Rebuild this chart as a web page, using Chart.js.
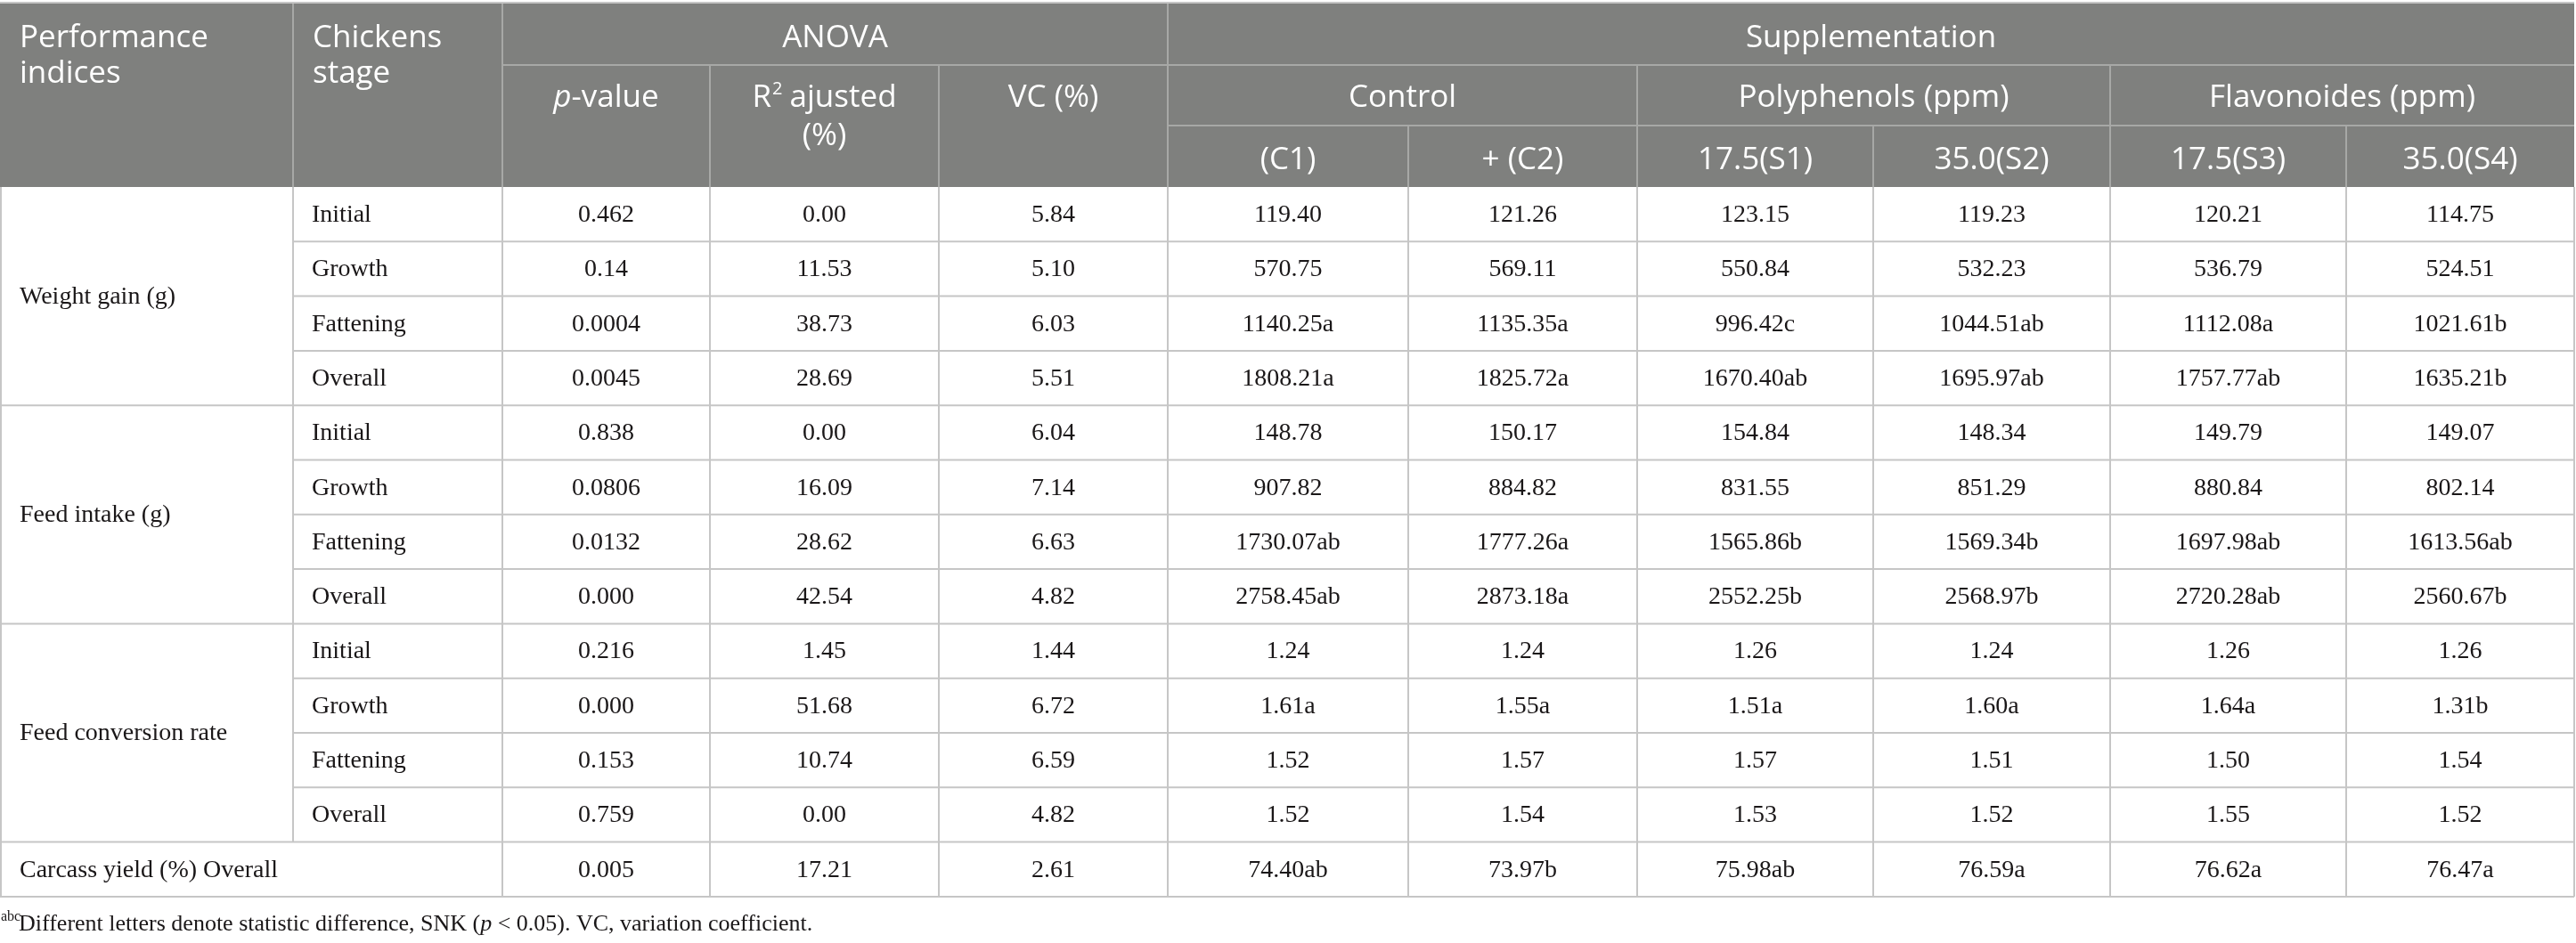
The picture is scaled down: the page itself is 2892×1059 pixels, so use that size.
<!DOCTYPE html>
<html>
<head>
<meta charset="utf-8">
<script src="https://cdn.jsdelivr.net/npm/chart.js@4.4.0/dist/chart.umd.min.js"></script>
<style>
  html, body { margin: 0; padding: 0; background: #fff; overflow: hidden; }
  #wrap { position: relative; width: 2892px; height: 1059px; }
</style>
</head>
<body>
<div id="wrap"><canvas id="tabela"></canvas></div>
<script>
/* dados da tabela */
const indices = ["Weight gain (g)", "Feed intake (g)", "Feed conversion rate"];
const stages = ["Initial", "Growth", "Fattening", "Overall"];
const carcassLabel = "Carcass yield (%) Overall";
const groups = ["Control", "Polyphenols (ppm)", "Flavonoides (ppm)"];
const treatments = ["(C1)", "+ (C2)", "17.5(S1)", "35.0(S2)", "17.5(S3)", "35.0(S4)"];

const pValue = ["0.462", "0.14", "0.0004", "0.0045", "0.838", "0.0806", "0.0132", "0.000", "0.216", "0.000", "0.153", "0.759", "0.005"];
const r2Adj = ["0.00", "11.53", "38.73", "28.69", "0.00", "16.09", "28.62", "42.54", "1.45", "51.68", "10.74", "0.00", "17.21"];
const vcPct = ["5.84", "5.10", "6.03", "5.51", "6.04", "7.14", "6.63", "4.82", "1.44", "6.72", "6.59", "4.82", "2.61"];
const c1 = ["119.40", "570.75", "1140.25a", "1808.21a", "148.78", "907.82", "1730.07ab", "2758.45ab", "1.24", "1.61a", "1.52", "1.52", "74.40ab"];
const c2 = ["121.26", "569.11", "1135.35a", "1825.72a", "150.17", "884.82", "1777.26a", "2873.18a", "1.24", "1.55a", "1.57", "1.54", "73.97b"];
const s1 = ["123.15", "550.84", "996.42c", "1670.40ab", "154.84", "831.55", "1565.86b", "2552.25b", "1.26", "1.51a", "1.57", "1.53", "75.98ab"];
const s2 = ["119.23", "532.23", "1044.51ab", "1695.97ab", "148.34", "851.29", "1569.34b", "2568.97b", "1.24", "1.60a", "1.51", "1.52", "76.59a"];
const s3 = ["120.21", "536.79", "1112.08a", "1757.77ab", "149.79", "880.84", "1697.98ab", "2720.28ab", "1.26", "1.64a", "1.50", "1.55", "76.62a"];
const s4 = ["114.75", "524.51", "1021.61b", "1635.21b", "149.07", "802.14", "1613.56ab", "2560.67b", "1.26", "1.31b", "1.54", "1.52", "76.47a"];

/* layout (unidades das escalas x/y) */
const colEdges = [0, 329, 564, 797, 1054, 1311, 1581, 1838, 2103, 2369, 2634, 2890];
const headEdges = [4, 73, 141, 210];
const bodyTop = 210;
const rowH = 61.3;
const nRows = 13;

const HEAD_BG = "#7f807e";
const HEAD_LINE = "#a7a8a6";
const BODY_LINE = "#c6c6c6";
const INK = "#1a1718";
const SANS = "'Open Sans', 'Noto Sans', sans-serif";
const SERIF = "'Liberation Serif', 'DejaVu Serif', serif";

const colCenter = (c) => (colEdges[c] + colEdges[c + 1]) / 2;
const rowCenter = (r) => bodyTop + rowH * (r + 0.5);

/* datasets: uma coluna da tabela por dataset, pontos invisíveis */
const valueCols = [pValue, r2Adj, vcPct, c1, c2, s1, s2, s3, s4];
const datasets = valueCols.map((vals, k) => ({
  data: vals.map((v, i) => ({ x: colCenter(k + 2), y: rowCenter(i), label: v })),
  align: "center",
  pointRadius: 0,
}));

const stageRows = [];
for (let g = 0; g < indices.length; g++) {
  stages.forEach((s, j) => stageRows.push({ x: colEdges[1] + 21, y: rowCenter(g * 4 + j), label: s }));
}
datasets.push({ data: stageRows, align: "left", pointRadius: 0 });

const indexRows = indices.map((s, g) => ({ x: 22, y: bodyTop + rowH * (g * 4 + 2), label: s }));
indexRows.push({ x: 22, y: rowCenter(12), label: carcassLabel });
datasets.push({ data: indexRows, align: "left", pointRadius: 0 });

/* desenha a grade, o cabeçalho e os textos */
const tablePlugin = {
  id: "tabela",
  beforeDatasetsDraw(chart) {
    const { ctx } = chart;
    const X = (v) => chart.scales.x.getPixelForValue(v);
    const Y = (v) => chart.scales.y.getPixelForValue(v);
    const line = (x0, y0, x1, y1) => {
      ctx.beginPath();
      ctx.moveTo(X(x0), Y(y0));
      ctx.lineTo(X(x1), Y(y1));
      ctx.stroke();
    };
    const right = colEdges[colEdges.length - 1];
    const bottom = bodyTop + rowH * nRows;

    ctx.save();
    // cabeçalho
    ctx.fillStyle = HEAD_BG;
    ctx.fillRect(X(0), Y(headEdges[0]), X(right) - X(0), Y(bodyTop) - Y(headEdges[0]));

    ctx.strokeStyle = HEAD_LINE;
    ctx.lineWidth = 2;
    line(colEdges[2], headEdges[1], right, headEdges[1]);
    line(colEdges[5], headEdges[2], right, headEdges[2]);
    [1, 2, 5].forEach((c) => line(colEdges[c], headEdges[0], colEdges[c], bodyTop));
    [3, 4, 7, 9].forEach((c) => line(colEdges[c], headEdges[1], colEdges[c], bodyTop));
    [6, 8, 10].forEach((c) => line(colEdges[c], headEdges[2], colEdges[c], bodyTop));

    // grade do corpo
    ctx.strokeStyle = BODY_LINE;
    line(0, headEdges[0] - 1, right, headEdges[0] - 1);
    for (let k = 1; k <= nRows; k++) {
      const yy = bodyTop + rowH * k;
      const full = k % 4 === 0 || k === nRows;
      line(full ? 0 : colEdges[1], yy, right, yy);
    }
    line(1, bodyTop, 1, bottom);
    line(right, bodyTop, right, bottom);
    colEdges.slice(1, -1).forEach((cx, c) => {
      const yEnd = c === 0 ? bodyTop + rowH * 12 : bottom;
      line(cx, bodyTop, cx, yEnd);
    });
    ctx.restore();
  },

  afterDatasetsDraw(chart) {
    const { ctx } = chart;
    const X = (v) => chart.scales.x.getPixelForValue(v);
    const Y = (v) => chart.scales.y.getPixelForValue(v);

    ctx.save();
    // células do corpo a partir dos elementos do chart
    ctx.fillStyle = INK;
    ctx.font = "28px " + SERIF;
    ctx.textBaseline = "middle";
    chart.data.datasets.forEach((ds, di) => {
      const meta = chart.getDatasetMeta(di);
      ctx.textAlign = ds.align;
      meta.data.forEach((pt, i) => ctx.fillText(ds.data[i].label, pt.x, pt.y + 1));
    });

    // cabeçalho
    ctx.fillStyle = "#ffffff";
    ctx.textBaseline = "alphabetic";
    const hFont = "35px " + SANS;
    const txt = (s, x, y, align) => {
      ctx.font = hFont;
      ctx.textAlign = align || "center";
      ctx.fillText(s, X(x), Y(y));
    };
    txt("Performance", 22, 53, "left");
    txt("indices", 22, 93, "left");
    txt("Chickens", colEdges[1] + 22, 53, "left");
    txt("stage", colEdges[1] + 22, 93, "left");
    txt("ANOVA", (colEdges[2] + colEdges[5]) / 2, 53);
    txt("Supplementation", (colEdges[5] + colEdges[11]) / 2, 53);

    // p-value (p em itálico)
    ctx.textAlign = "left";
    ctx.font = "italic " + hFont;
    const wp = ctx.measureText("p").width;
    ctx.font = hFont;
    const wv = ctx.measureText("-value").width;
    let x0 = X(colCenter(2)) - (wp + wv) / 2;
    ctx.font = "italic " + hFont;
    ctx.fillText("p", x0, Y(120));
    ctx.font = hFont;
    ctx.fillText("-value", x0 + wp, Y(120));

    // R² ajusted (%)
    const supFont = "20px " + SANS;
    ctx.font = hFont;
    const wR = ctx.measureText("R").width;
    const wA = ctx.measureText(" ajusted").width;
    ctx.font = supFont;
    const w2 = ctx.measureText("2").width;
    x0 = X(colCenter(3)) - (wR + w2 + wA) / 2;
    ctx.font = hFont;
    ctx.fillText("R", x0, Y(120));
    ctx.font = supFont;
    ctx.fillText("2", x0 + wR + 1, Y(106));
    ctx.font = hFont;
    ctx.fillText(" ajusted", x0 + wR + w2, Y(120));
    txt("(%)", colCenter(3), 163);
    txt("VC (%)", colCenter(4), 120);

    // grupos e tratamentos
    const spans = [[5, 7], [7, 9], [9, 11]];
    groups.forEach((g, i) => txt(g, (colEdges[spans[i][0]] + colEdges[spans[i][1]]) / 2, 120));
    treatments.forEach((t, i) => txt(t, colCenter(i + 5), 190));

    // nota de rodapé
    ctx.fillStyle = INK;
    ctx.textAlign = "left";
    ctx.font = "16px " + SERIF;
    ctx.fillText("abc", X(1), Y(1034));
    const fy = Y(1045);
    let fx = X(21);
    const parts = [
      ["", "Different letters denote statistic difference, SNK ("],
      ["italic ", "p"],
      ["", " < 0.05). VC, variation coefficient."],
    ];
    parts.forEach(([st, s]) => {
      ctx.font = st + "26px " + SERIF;
      ctx.fillText(s, fx, fy);
      fx += ctx.measureText(s).width;
    });
    ctx.restore();
  },
};

new Chart(document.getElementById("tabela"), {
  type: "scatter",
  data: { datasets },
  options: {
    responsive: true,
    maintainAspectRatio: false,
    devicePixelRatio: 1,
    animation: false,
    layout: { padding: 0 },
    plugins: { legend: { display: false }, tooltip: { enabled: false } },
    scales: {
      x: { type: "linear", min: 0, max: 2892, display: false },
      y: { type: "linear", min: 0, max: 1059, reverse: true, display: false },
    },
  },
  plugins: [tablePlugin],
});
</script>
</body>
</html>
